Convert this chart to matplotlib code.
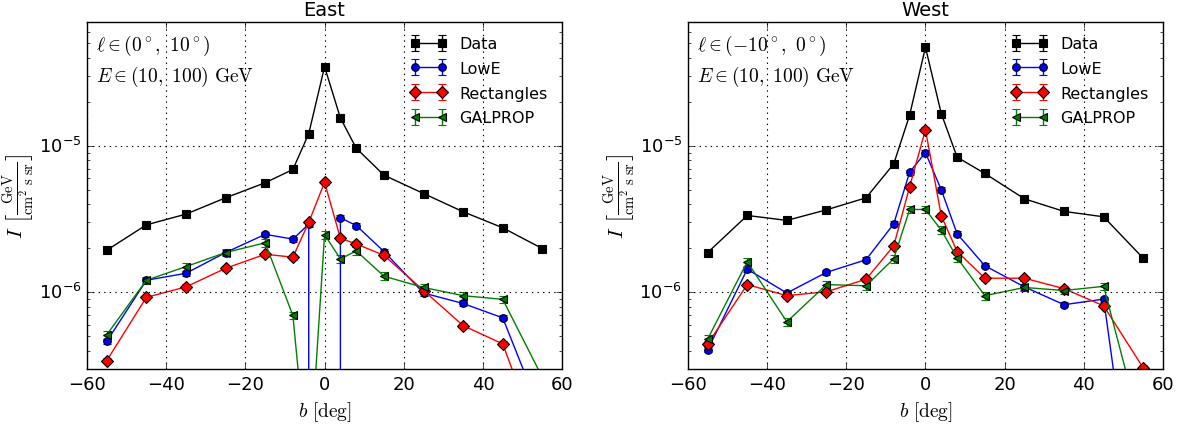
import matplotlib
matplotlib.use('Agg')
import matplotlib.pyplot as plt
import numpy as np
from matplotlib.ticker import FuncFormatter, LogLocator

plt.style.use('classic')
plt.rcParams['figure.facecolor'] = 'white'
plt.rcParams['savefig.facecolor'] = 'white'
plt.rcParams['mathtext.fontset'] = 'cm'
plt.rcParams['font.family'] = ['DejaVu Sans']

# latitude bins
b = [-55, -45, -35, -25, -15, -8, -4, 0, 4, 8, 15, 25, 35, 45, 55]

# East, l in (0, 10)
east_data = [1.94e-6, 2.89e-6, 3.42e-6, 4.42e-6, 5.6e-6, 6.9e-6, 1.21e-5, 3.47e-5,
             1.55e-5, 9.64e-6, 6.31e-6, 4.73e-6, 3.55e-6, 2.76e-6, 1.99e-6]
east_lowe = [4.63e-7, 1.21e-6, 1.35e-6, 1.87e-6, 2.49e-6, 2.31e-6, 2.92e-6, -1e-6,
             3.23e-6, 2.86e-6, 1.90e-6, 9.9e-7, 8.4e-7, 6.7e-7, 1.4e-7]
east_rect = [3.42e-7, 9.25e-7, 1.09e-6, 1.46e-6, 1.82e-6, 1.74e-6, 3.0e-6, 5.65e-6,
             2.34e-6, 2.14e-6, 1.79e-6, 1.03e-6, 5.93e-7, 4.45e-7, 8.3e-8]
east_galprop = [5.14e-7, 1.21e-6, 1.50e-6, 1.87e-6, 2.18e-6, 6.96e-7, 5.2e-8, 2.48e-6,
                1.69e-6, 1.92e-6, 1.29e-6, 1.08e-6, 9.5e-7, 8.96e-7, 2.63e-7]

# West, l in (-10, 0)
west_data = [1.87e-6, 3.35e-6, 3.1e-6, 3.66e-6, 4.42e-6, 7.54e-6, 1.62e-5, 4.71e-5,
             1.66e-5, 8.37e-6, 6.48e-6, 4.35e-6, 3.57e-6, 3.28e-6, 1.71e-6]
west_lowe = [4.05e-7, 1.44e-6, 9.9e-7, 1.37e-6, 1.67e-6, 2.94e-6, 6.61e-6, 9.0e-6,
             5.01e-6, 2.51e-6, 1.52e-6, 1.09e-6, 8.24e-7, 9.0e-7, 1e-8]
west_rect = [4.45e-7, 1.13e-6, 9.5e-7, 1.01e-6, 1.23e-6, 2.08e-6, 5.25e-6, 1.29e-5,
             3.33e-6, 1.9e-6, 1.25e-6, 1.25e-6, 1.06e-6, 8.1e-7, 3.05e-7]
west_galprop = [4.8e-7, 1.62e-6, 6.3e-7, 1.13e-6, 1.11e-6, 1.7e-6, 3.68e-6, 3.68e-6,
                2.66e-6, 1.72e-6, 9.5e-7, 1.08e-6, 1.03e-6, 1.1e-6, 1.02e-7]

# relative error bar size per series
rel_err = {'Data': 0.02, 'LowE': 0.04, 'Rectangles': 0.04, 'GALPROP': 0.06}

series_style = [
    ('Data', 'k', 's', 6),
    ('LowE', 'b', 'o', 5.5),
    ('Rectangles', 'r', 'D', 6),
    ('GALPROP', 'g', '<', 6),
]

panels = [
    ('East', r'$\ell \in (0^\circ,\ 10^\circ)$',
     [east_data, east_lowe, east_rect, east_galprop]),
    ('West', r'$\ell \in (-10^\circ,\ 0^\circ)$',
     [west_data, west_lowe, west_rect, west_galprop]),
]

fig = plt.figure(figsize=(11.88, 4.27), dpi=100)
axes_pos = [[0.0732, 0.1335, 0.4, 0.8125], [0.579, 0.1335, 0.4, 0.8125]]


def log_fmt(y, pos):
    e = int(np.round(np.log10(y)))
    return r'$\mathdefault{10^{%d}}$' % e


for (title, ltext, vals), pos in zip(panels, axes_pos):
    ax = fig.add_axes(pos)
    ax.set_yscale('log', nonpositive='clip')
    for (name, col, mk, ms), y in zip(series_style, vals):
        y = np.array(y)
        ax.errorbar(b, y, yerr=np.abs(y) * rel_err[name], color=col, marker=mk,
                    markeredgecolor='k', markersize=ms, markeredgewidth=0.8,
                    capsize=3, lw=1.0, label=name)
    ax.set_xlim(-60, 60)
    ax.set_ylim(3e-7, 7e-5)
    ax.grid(True, color='k', linestyle=':', linewidth=0.8)
    ax.set_title(title, fontsize=14)
    ax.set_xlabel(r'$b\ [\mathrm{deg}]$', fontsize=14)
    ax.set_ylabel(r'$I\ \left[\frac{\mathrm{GeV}}{\mathrm{cm^2\ s\ sr}}\right]$', fontsize=15)
    ax.yaxis.set_label_coords(-0.105, 0.5)
    ax.yaxis.set_major_locator(LogLocator(base=10))
    ax.yaxis.set_major_formatter(FuncFormatter(log_fmt))
    ax.tick_params(labelsize=13)
    ax.text(0.02, 0.97, ltext + '\n' + r'$E \in (10,\ 100)\ \mathrm{GeV}$',
            transform=ax.transAxes, va='top', ha='left', fontsize=14, linespacing=1.4)
    ax.legend(loc='upper right', frameon=False, fontsize=11.5, numpoints=2,
              handlelength=2.3, labelspacing=0.6)

fig.savefig('out.png', dpi=100)
